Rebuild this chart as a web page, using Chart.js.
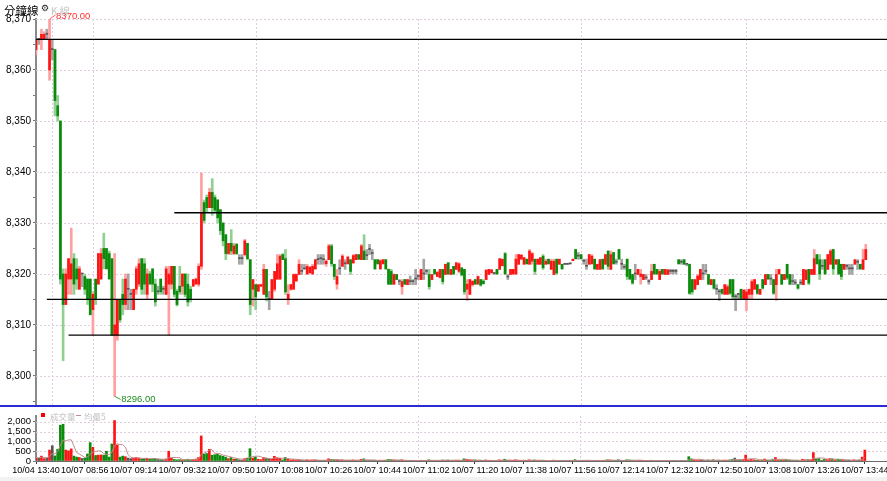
<!DOCTYPE html>
<html>
<head>
<meta charset="utf-8">
<script src="https://cdn.jsdelivr.net/npm/chart.js@4.4.0/dist/chart.umd.min.js"></script>
<style>
  html, body { margin: 0; padding: 0; background: #fff; overflow: hidden; }
  #wrap { position: relative; width: 887px; height: 481px; overflow: hidden; }
  canvas { position: absolute; left: 0; }
  #priceChart { top: 0; }
  #volChart { top: 407px; }
  .t { position: absolute; white-space: nowrap; line-height: 1; }
  #sep { position: absolute; left: 0; top: 405px; width: 887px; height: 2px; background: #2b2bd6; }
  #strip { position: absolute; left: 0; top: 477px; width: 887px; height: 4px; background: #f2f2f2; }
</style>
</head>
<body>
<div id="wrap">
  <canvas id="priceChart" width="920" height="406"></canvas>
  <canvas id="volChart" width="920" height="74"></canvas>
  <div id="sep"></div>
  <div id="strip"></div>
  <div class="t" style="left:4px;top:2px;font:11.5px 'Noto Sans CJK TC',sans-serif;color:#000">分鐘線</div>
  <div class="t" style="left:41px;top:3px;font:9px 'DejaVu Sans',sans-serif;color:#222">⚙</div>
  <div class="t" style="left:51px;top:3px;font:10px 'Noto Sans CJK TC',sans-serif;color:#c4c4c4">K 線</div>
  <div class="t" style="left:41px;top:413px;width:4px;height:4px;background:#f00"></div>
  <div class="t" style="left:50px;top:410px;font:8.5px 'Noto Sans CJK TC',sans-serif;color:#c4c4c4">成交量</div>
  <div class="t" style="left:76px;top:415px;width:5px;height:1px;background:#c28c8c"></div>
  <div class="t" style="left:84px;top:410px;font:8.5px 'Noto Sans CJK TC',sans-serif;color:#c4c4c4">均量5</div>
</div>
<script>
const FONT = "'Liberation Sans Narrow', 'Liberation Sans', Arial, sans-serif";
const GRID = '#e0cde0';

// one bar per minute: tail of 10/04, then the 10/07 session
const labels = [];
function hhmm(m) {
  return String(Math.floor(m / 60)).padStart(2, '0') + ':' + String(m % 60).padStart(2, '0');
}
for (let m = 13 * 60 + 40; m <= 13 * 60 + 45; m++) labels.push('10/04 ' + hhmm(m));
for (let m = 8 * 60 + 44; m <= 13 * 60 + 44; m++) labels.push('10/07 ' + hhmm(m));
const lastBar = labels.length - 1;
while (labels.length < 327) labels.push('');

// vertical dotted lines (date change + hours)
const hourTicks = [6, 21, 81, 141, 201, 262];
const priceTicks = [8295, 8300, 8305, 8310, 8315, 8320, 8325, 8330, 8335, 8340, 8345, 8350, 8355, 8360, 8365, 8370];
const priceRows = [8300, 8310, 8320, 8330, 8340, 8350, 8360, 8370];
const volTicks = [0, 500, 1000, 1500, 2000];
const volRows = [500, 1000, 1500, 2000];

const opens = [
  8364, 8366, 8366, 8366, 8367, 8360, 8364, 8364, 8353, 8350,
  8320, 8314, 8319, 8319, 8323, 8321, 8317, 8320, 8319.5, 8319,
  8319, 8313, 8319, 8318, 8319, 8325, 8325, 8324, 8323, 8308,
  8308, 8315, 8316, 8314, 8317, 8316, 8313, 8317, 8318, 8323,
  8322, 8316, 8320, 8321, 8318, 8316.5, 8319, 8317, 8316, 8318,
  8318, 8321.5, 8316.6, 8317.6, 8317.6, 8320, 8318, 8317, 8317.6, 8318,
  8318, 8321.5, 8334, 8335, 8333, 8336, 8335, 8334.5, 8332.6, 8330,
  8327.7, 8324, 8326, 8324, 8325.8, 8323, 8323, 8323.8, 8326, 8322.8,
  8317, 8317.9, 8316.6, 8317.6, 8316, 8320.9, 8315, 8315, 8317, 8319,
  8319, 8323.8, 8323, 8315, 8317, 8317, 8318.6, 8319.9, 8320.5, 8321,
  8320, 8320.2, 8320, 8321, 8322.8, 8323, 8322.8, 8322, 8322.8, 8325.5,
  8321.9, 8318, 8321, 8321.5, 8322, 8322, 8322.8, 8322.2, 8322.8, 8323.8,
  8322.8, 8324.5, 8323.6, 8324.8, 8324, 8322.8, 8322.8, 8321, 8322, 8322.8,
  8320.9, 8320.5, 8318, 8319.9, 8318.5, 8317.5, 8318.9, 8317.9, 8318.5, 8318.5,
  8319, 8319.5, 8318.9, 8320, 8320.5, 8319.9, 8318.9, 8320.9, 8319.5, 8319.3,
  8320.9, 8319.9, 8322.2, 8319.9, 8321.5, 8320.9, 8320.5, 8321.2, 8320.9, 8317,
  8316, 8317.9, 8318.9, 8318, 8318.9, 8318.6, 8318.9, 8319.9, 8320.2, 8320.1,
  8320.9, 8320.9, 8321.6, 8324, 8319.4, 8319.9, 8320, 8320, 8321.9, 8322.9,
  8321.9, 8322.9, 8321.9, 8322.5, 8322.9, 8321.9, 8321.9, 8323.5, 8321.9, 8322.9,
  8320.9, 8319.9, 8322.9, 8321.9, 8321.9, 8321.9, 8321.9, 8322, 8322.6, 8324.8,
  8323.5, 8323.8, 8322.5, 8321.5, 8321.9, 8322, 8322.9, 8320.9, 8320.9, 8322.9,
  8321.9, 8324.5, 8320.9, 8324.2, 8322.3, 8324.8, 8321.9, 8321.3, 8322.9, 8320.9,
  8319.9, 8320, 8319.9, 8319.5, 8318.9, 8319.2, 8318.5, 8318.9, 8321.9, 8320.9,
  8318.9, 8320.9, 8319.9, 8319.9, 8320.5, 8320.5, 8320.5, 8322.8, 8322.3, 8322.8,
  8321.9, 8321.9, 8318.9, 8317, 8317.9, 8318.9, 8320, 8320.5, 8319.9, 8317.9,
  8318.9, 8317, 8316.5, 8317, 8316, 8316, 8318.9, 8318.9, 8315.5, 8316,
  8317, 8315, 8315, 8316, 8316, 8317, 8317.9, 8316, 8318.9, 8317.9,
  8319.9, 8319, 8318.9, 8317.9, 8320, 8319.9, 8318.9, 8321.9, 8319.9, 8318.5,
  8318.2, 8317.9, 8318.2, 8317.9, 8318.9, 8320.9, 8319.9, 8319.9, 8323.8, 8322.8,
  8321.5, 8322.8, 8320.9, 8321.9, 8324.8, 8321.9, 8322.8, 8321.9, 8320.9, 8321.5,
  8321, 8321, 8321.9, 8322.3, 8321.9, 8320.9, 8322.8
];
const highs = [
  8366, 8366, 8368, 8367.5, 8368, 8370, 8366, 8364, 8355, 8350,
  8321, 8321, 8323, 8329, 8324, 8323, 8321.5, 8320, 8320, 8319,
  8319, 8316.5, 8319, 8324, 8325, 8328, 8325, 8324.5, 8323, 8324,
  8315, 8315, 8319, 8320, 8320, 8317, 8317, 8321.5, 8323, 8323,
  8323, 8321, 8320.5, 8321, 8319, 8317.6, 8319, 8317.6, 8321.5, 8321.5,
  8321.5, 8321.5, 8317, 8321.5, 8320, 8320, 8320, 8317.6, 8318.9, 8319.2,
  8322, 8339.8, 8334.5, 8335.5, 8336.8, 8338.7, 8335.5, 8334.6, 8332.6, 8330,
  8327.7, 8326, 8328.7, 8326, 8326, 8323.8, 8323.8, 8326.8, 8326, 8322.8,
  8318.9, 8318, 8317.9, 8318, 8321.9, 8320.9, 8316.6, 8318.9, 8320.5, 8323.8,
  8323.8, 8324, 8324.8, 8317.9, 8318, 8320, 8320, 8322.8, 8321.9, 8321.9,
  8321.9, 8321.5, 8321.9, 8322.8, 8323.8, 8323.8, 8323.8, 8322.8, 8325.8, 8325.8,
  8321.9, 8320.9, 8322.8, 8323.8, 8322.8, 8323.5, 8322.8, 8323.8, 8323.8, 8323.8,
  8325.8, 8327.7, 8324.8, 8325.8, 8324.8, 8322.8, 8322.8, 8322.8, 8322.8, 8322.8,
  8321, 8320.9, 8320, 8319.9, 8318.9, 8318.9, 8318.9, 8318.9, 8319.6, 8318.9,
  8320.9, 8319.9, 8320.9, 8322.9, 8320.9, 8320.9, 8319.9, 8320.9, 8320.5, 8320.9,
  8320.9, 8321.9, 8322.2, 8320.9, 8321.5, 8322.2, 8322.2, 8321.2, 8320.9, 8318.9,
  8318.9, 8318.6, 8318.9, 8319.6, 8318.9, 8318.9, 8320.9, 8320.9, 8320.9, 8320.2,
  8320.9, 8323, 8322.9, 8324.2, 8319.9, 8320.9, 8320.9, 8323.8, 8323.8, 8323.8,
  8323.2, 8322.9, 8324.8, 8324.2, 8322.9, 8322.9, 8323.2, 8323.8, 8322.9, 8322.9,
  8322.9, 8322.9, 8322.9, 8322.9, 8321.9, 8321.9, 8322, 8322.1, 8322.9, 8324.8,
  8324.2, 8323.8, 8322.9, 8322.9, 8323.8, 8323.8, 8322.9, 8321.9, 8322.9, 8322.9,
  8323.8, 8324.5, 8324.5, 8324.2, 8322.9, 8324.8, 8322.9, 8321.9, 8322.9, 8320.9,
  8319.9, 8321.9, 8320.9, 8320.9, 8319.9, 8319.9, 8318.9, 8321.9, 8321.9, 8320.9,
  8320.9, 8320.9, 8320.9, 8320.9, 8320.9, 8320.9, 8320.9, 8322.8, 8322.8, 8322.8,
  8322, 8321.9, 8318.9, 8318.9, 8319.9, 8320.9, 8321.9, 8321.9, 8319.9, 8318.9,
  8318.9, 8317.9, 8317, 8317, 8317.9, 8317.9, 8318.9, 8318.9, 8316, 8316,
  8317, 8317, 8317, 8317, 8318.9, 8318.9, 8317.9, 8317, 8318.9, 8319.9,
  8319.9, 8319.9, 8318.9, 8320.9, 8320.9, 8319.9, 8319.9, 8321.9, 8319.9, 8319.9,
  8318.9, 8317.9, 8318.9, 8320.9, 8320.9, 8320.9, 8320.9, 8324.8, 8323.8, 8323.8,
  8322.8, 8322.8, 8323.8, 8324.8, 8324.8, 8322.8, 8322.8, 8321.9, 8321.9, 8321.9,
  8321.9, 8321.9, 8322.8, 8322.8, 8321.9, 8324.8, 8325.8
];
const lows = [
  8363, 8365, 8364, 8366, 8366, 8358, 8362, 8351, 8350, 8318,
  8303, 8314, 8316, 8316, 8316, 8317, 8317, 8317.5, 8316, 8314,
  8312, 8308, 8314, 8318, 8319, 8321, 8321, 8319, 8308, 8296,
  8307, 8310.5, 8312, 8313, 8313, 8313, 8313, 8316, 8317.5, 8316,
  8316, 8315, 8318, 8316.5, 8313.7, 8316, 8316, 8316, 8316, 8308,
  8317, 8315.5, 8313.7, 8316, 8316, 8315.5, 8313.7, 8314.5, 8317.6, 8318,
  8317.6, 8320.9, 8330, 8332, 8333, 8331.5, 8332, 8330, 8327.7, 8325.5,
  8322.8, 8323.8, 8323.8, 8323.8, 8323.8, 8321.9, 8321.9, 8323.5, 8322.8, 8312,
  8313.7, 8313, 8316.6, 8317.5, 8316, 8314.7, 8313, 8315, 8316.6, 8318.9,
  8318.9, 8322.8, 8316, 8314, 8316.8, 8317, 8318.6, 8319.9, 8319.9, 8320.9,
  8319.9, 8320.2, 8319.9, 8320.9, 8321.9, 8321.9, 8321.9, 8321.5, 8322.8, 8321.5,
  8318.9, 8317, 8319.9, 8321.5, 8320.9, 8321.9, 8319.9, 8322, 8322.8, 8322.8,
  8322.8, 8322.8, 8322.8, 8323.8, 8322.8, 8320.9, 8321.9, 8320.9, 8321.9, 8320.9,
  8317.9, 8317.9, 8317.9, 8318.9, 8317.9, 8316, 8317.9, 8317.9, 8317.9, 8317.9,
  8317.9, 8318.9, 8318.9, 8318.9, 8319.9, 8317, 8318.9, 8319.9, 8319.5, 8319.2,
  8318, 8319.9, 8319.9, 8319.9, 8319.9, 8320.9, 8320.2, 8319.6, 8316, 8314.8,
  8316, 8317.6, 8318, 8318, 8317.6, 8318, 8318.9, 8319.9, 8320.2, 8319.9,
  8319.9, 8320.9, 8321.6, 8319.9, 8318.9, 8319.9, 8319.9, 8319.9, 8321.9, 8322.9,
  8321.9, 8321.9, 8321.9, 8321.9, 8319.9, 8321.9, 8321.9, 8320.9, 8321.9, 8321.9,
  8320.9, 8319.9, 8319.9, 8321.9, 8320.9, 8321.8, 8321.8, 8321.9, 8322.6, 8322.9,
  8322.9, 8322.9, 8321.9, 8320.9, 8321.9, 8321.9, 8320.9, 8320.9, 8320.9, 8320.9,
  8321.9, 8320.9, 8320.9, 8321.9, 8321.9, 8322.9, 8320.9, 8320.9, 8318.9, 8318.9,
  8318, 8318.9, 8319.9, 8318, 8318.9, 8318.9, 8318, 8318.9, 8319.9, 8319.9,
  8318.9, 8319.9, 8319.9, 8319.9, 8320, 8320, 8320, 8321.9, 8321.9, 8321.9,
  8321.6, 8316, 8316, 8317, 8317.9, 8318.9, 8318.9, 8319.9, 8317.9, 8317.9,
  8317, 8316, 8314.8, 8316, 8316, 8316, 8316, 8315, 8312.8, 8315,
  8315, 8315, 8312.8, 8315, 8315, 8317, 8316, 8316, 8317, 8317.9,
  8318.9, 8317.9, 8316, 8314.8, 8319.9, 8317.9, 8318.9, 8318.9, 8317.9, 8317.9,
  8317.9, 8317, 8317.9, 8317.9, 8318.9, 8317.9, 8319.9, 8319.9, 8321.9, 8318.9,
  8320.9, 8319.9, 8320.9, 8321.9, 8319.9, 8321.9, 8319.9, 8318.9, 8320.9, 8320.9,
  8319.9, 8319.9, 8321.9, 8320.9, 8320.9, 8320.9, 8322.8
];
const closes = [
  8366, 8366, 8367, 8367, 8367, 8366, 8364, 8354, 8351, 8319,
  8314, 8320, 8323, 8322, 8318, 8319, 8321, 8320, 8317, 8315,
  8312, 8316, 8315, 8324, 8324, 8323, 8321, 8319, 8308, 8310,
  8315, 8311, 8314, 8319, 8317, 8316, 8317, 8321, 8322, 8317,
  8318, 8320, 8318, 8318, 8314.5, 8316.5, 8316.5, 8317, 8321, 8320,
  8321.5, 8316, 8314, 8316.5, 8320, 8316, 8314.5, 8315, 8318.9, 8319,
  8321.5, 8332, 8330.5, 8333, 8336, 8333, 8332.5, 8331, 8328.5, 8326.5,
  8324, 8326, 8324.5, 8325.5, 8324, 8323, 8323, 8326.5, 8323, 8314,
  8318.9, 8315.5, 8317.9, 8317.9, 8320.9, 8315.5, 8315, 8318.9, 8320.5, 8322,
  8323.5, 8322.8, 8316.5, 8316, 8317.9, 8319.9, 8319.9, 8321.9, 8320.5, 8321,
  8321.5, 8321.3, 8321.5, 8322.8, 8322.8, 8323, 8322.8, 8322.5, 8325.5, 8322,
  8319.5, 8319.5, 8321, 8323.5, 8322, 8323.3, 8320.5, 8323.6, 8323.8, 8322.9,
  8325.5, 8322.8, 8323.6, 8324.8, 8324, 8321, 8322, 8322.6, 8322.8, 8321,
  8318, 8318, 8319.9, 8318.9, 8318.5, 8318.5, 8318, 8318.9, 8318.5, 8318.5,
  8319, 8319.5, 8320.9, 8320, 8320.5, 8317.5, 8319.9, 8320, 8320.3, 8320.9,
  8318.5, 8321.9, 8320, 8320.9, 8320, 8322.2, 8322, 8319.8, 8316.5, 8318,
  8318.9, 8318.6, 8318, 8319.5, 8317.8, 8318.1, 8320.7, 8320.9, 8320.8, 8320.1,
  8320, 8323, 8322.9, 8320, 8319.4, 8320.9, 8320.9, 8322.9, 8323.8, 8323.7,
  8323.2, 8322, 8324.5, 8324, 8320.5, 8322.9, 8323.2, 8321.2, 8322.5, 8322,
  8322.5, 8322.5, 8320.2, 8322.9, 8321, 8321.9, 8321.9, 8322, 8322.9, 8323,
  8323.5, 8323, 8322.5, 8321.5, 8323.8, 8323.5, 8321, 8321.9, 8322.8, 8321,
  8323.8, 8321.5, 8323.8, 8322, 8322.3, 8322.9, 8321.9, 8321.3, 8319.5, 8319,
  8318.2, 8320, 8320.9, 8320, 8319.9, 8319.2, 8318.5, 8320.5, 8320, 8320,
  8320.5, 8320, 8320.9, 8320.8, 8320.5, 8320.5, 8320.5, 8322, 8322.3, 8321.9,
  8321.9, 8316.2, 8316.5, 8318.9, 8319.6, 8320.9, 8320, 8320.5, 8318, 8318.9,
  8317.2, 8317, 8316.5, 8316.2, 8317.9, 8317.5, 8316.2, 8315.5, 8315.5, 8316,
  8315.2, 8316.8, 8316.5, 8317, 8318.5, 8318.9, 8316.2, 8317, 8317.2, 8319.9,
  8319, 8319, 8316.2, 8319.9, 8320.9, 8318, 8319.9, 8319.2, 8318, 8318.5,
  8318.2, 8317.2, 8318.2, 8320.9, 8320.7, 8318.2, 8320.9, 8323, 8322, 8320,
  8321.5, 8320, 8323.8, 8324.5, 8321, 8322.8, 8320, 8319.5, 8321.9, 8321.5,
  8321, 8321, 8322.8, 8322.3, 8321, 8322.8, 8324.8
];
const volumes = [
  180, 140, 250, 120, 150, 560, 780, 260, 600, 1830,
  1880, 560, 520, 620, 250, 200, 180, 130, 150, 360,
  940, 700, 280, 300, 310, 300, 500, 200, 870, 2070,
  820, 200, 250, 220, 150, 120, 130, 180, 150, 100,
  120, 140, 90, 110, 130, 80, 70, 60, 100, 500,
  150, 80, 60, 70, 50, 60, 90, 60, 80, 100,
  180, 1280, 350, 380, 600, 300, 320, 350, 280, 240,
  200, 120, 180, 90, 100, 60, 50, 120, 150, 630,
  150, 200, 90, 70, 180, 150, 110, 90, 240, 160,
  140, 60, 180, 90, 60, 70, 50, 80, 40, 30,
  60, 40, 50, 60, 30, 20, 30, 40, 110, 80,
  70, 60, 30, 50, 30, 40, 40, 50, 40, 30,
  90, 110, 30, 30, 20, 40, 30, 40, 30, 40,
  80, 70, 50, 30, 20, 60, 30, 30, 20, 20,
  30, 20, 40, 30, 20, 60, 30, 30, 20, 30,
  50, 40, 50, 30, 30, 40, 40, 30, 110, 90,
  60, 30, 30, 30, 40, 20, 50, 30, 20, 10,
  30, 60, 40, 90, 20, 30, 30, 60, 40, 20,
  30, 20, 60, 40, 50, 20, 20, 40, 20, 20,
  30, 40, 30, 20, 20, 10, 10, 10, 20, 70,
  20, 30, 20, 20, 40, 30, 30, 20, 30, 30,
  40, 60, 50, 30, 10, 60, 20, 10, 60, 50,
  40, 30, 30, 40, 20, 10, 10, 40, 30, 20,
  30, 20, 20, 20, 10, 10, 10, 30, 10, 20,
  10, 220, 110, 60, 20, 50, 60, 30, 50, 30,
  60, 30, 40, 30, 40, 40, 50, 80, 150, 40,
  50, 80, 300, 60, 80, 60, 40, 40, 50, 100,
  40, 30, 90, 180, 60, 50, 60, 70, 50, 20,
  20, 40, 20, 90, 60, 70, 60, 430, 100, 120,
  40, 80, 90, 120, 110, 50, 90, 70, 60, 30,
  40, 30, 60, 40, 50, 200, 560
];

// support / resistance levels and the bar they start from
const levels = [8366, 8332, 8315, 8308];
const levelStart = [0, 51, 4, 12];

const dir = closes.map((c, i) => c > opens[i] ? 1 : (c < opens[i] ? -1 : 0));
const bodyColor = dir.map(d => d > 0 ? '#ff1414' : (d < 0 ? '#0b8a0b' : '#555555'));
const wickColor = dir.map(d => d > 0 ? '#ffa0a0' : (d < 0 ? '#92cf92' : '#a4a4a4'));

// 5-bar average volume
const ma5 = volumes.map((v, i) => {
  const part = volumes.slice(Math.max(0, i - 4), i + 1);
  return part.reduce((a, b) => a + b, 0) / part.length;
});

Chart.defaults.font.family = FONT;
Chart.defaults.color = '#000';

// dotted grid: hour columns + value rows
const dottedGrid = {
  id: 'dottedGrid',
  beforeDatasetsDraw(chart, args, opts) {
    const { ctx, chartArea: a, scales: { x, y } } = chart;
    ctx.save();
    ctx.strokeStyle = GRID;
    ctx.lineWidth = 1;
    ctx.setLineDash([2, 2]);
    ctx.beginPath();
    hourTicks.forEach(i => {
      const px = Math.round(x.getPixelForValue(i)) + 0.5;
      ctx.moveTo(px, a.top);
      ctx.lineTo(px, a.bottom);
    });
    opts.rows.forEach(v => {
      const py = Math.round(y.getPixelForValue(v)) + 0.5;
      ctx.moveTo(a.left, py);
      ctx.lineTo(a.right, py);
    });
    ctx.stroke();
    ctx.restore();
  }
};

const extremeLabels = {
  id: 'extremeLabels',
  afterDatasetsDraw(chart) {
    const { ctx, scales: { x, y } } = chart;
    const hiVal = Math.max(...highs);
    const loVal = Math.min(...lows);
    const hi = highs.indexOf(hiVal);
    const lo = lows.indexOf(loVal);
    ctx.save();
    ctx.font = '9.5px ' + FONT;
    ctx.textBaseline = 'middle';
    ctx.textAlign = 'left';
    ctx.lineWidth = 1;

    let px = x.getPixelForValue(hi), py = y.getPixelForValue(hiVal);
    ctx.strokeStyle = '#ff6060';
    ctx.beginPath(); ctx.moveTo(px, py); ctx.lineTo(px + 6, py - 4); ctx.stroke();
    ctx.fillStyle = '#ff3030';
    ctx.fillText(hiVal.toFixed(2), px + 6.5, py - 3);

    px = x.getPixelForValue(lo); py = y.getPixelForValue(loVal);
    ctx.strokeStyle = '#3a9a3a';
    ctx.beginPath(); ctx.moveTo(px, py); ctx.lineTo(px + 6, py + 3); ctx.stroke();
    ctx.fillStyle = '#1e8c1e';
    ctx.fillText(loVal.toFixed(2), px + 6.5, py + 3);
    ctx.restore();
  }
};

const levelSets = levels.map((v, k) => ({
  type: 'line',
  data: labels.map((_, i) => i >= levelStart[k] ? v : null),
  borderColor: '#000',
  borderWidth: 1.3,
  pointRadius: 0,
  spanGaps: false,
  order: 0
}));

new Chart(document.getElementById('priceChart'), {
  type: 'bar',
  data: {
    labels: labels,
    datasets: levelSets.concat([
      {
        data: opens.map((o, i) => [o, closes[i]]),
        backgroundColor: bodyColor,
        barThickness: 2,
        minBarLength: 1,
        grouped: false,
        order: 1
      },
      {
        data: lows.map((l, i) => [l, highs[i]]),
        backgroundColor: wickColor,
        barThickness: 2,
        grouped: false,
        order: 2
      }
    ])
  },
  options: {
    responsive: false,
    animation: false,
    devicePixelRatio: 1,
    layout: { padding: { top: 19, bottom: 1, left: 0, right: 0 } },
    plugins: {
      legend: { display: false },
      tooltip: { enabled: false },
      dottedGrid: { rows: priceRows }
    },
    scales: {
      x: {
        display: false,
        offset: false
      },
      y: {
        min: 8294.3,
        max: 8370,
        afterBuildTicks: s => { s.ticks = priceTicks.map(v => ({ value: v })); },
        afterFit: s => { s.width = 36; s.paddingTop = 0; s.paddingBottom = 0; },
        ticks: {
          autoSkip: false,
          padding: 2,
          font: { size: 10 },
          color: '#000',
          callback: v => v % 10 === 0 ? v.toLocaleString('en-US') : ''
        },
        grid: { drawOnChartArea: false, tickLength: 3, tickColor: '#777' },
        border: { color: '#8a8a8a', width: 2 }
      }
    }
  },
  plugins: [dottedGrid, extremeLabels]
});

new Chart(document.getElementById('volChart'), {
  type: 'bar',
  data: {
    labels: labels,
    datasets: [
      {
        type: 'line',
        data: ma5,
        borderColor: '#c28c8c',
        borderWidth: 1,
        pointRadius: 0,
        order: 0
      },
      {
        data: volumes,
        backgroundColor: bodyColor,
        barThickness: 2,
        order: 1
      }
    ]
  },
  options: {
    responsive: false,
    animation: false,
    devicePixelRatio: 1,
    layout: { padding: { top: 9, bottom: 0, left: 0, right: 0 } },
    plugins: {
      legend: { display: false },
      tooltip: { enabled: false },
      dottedGrid: { rows: volRows }
    },
    scales: {
      x: {
        offset: false,
        afterFit: s => { s.height = 20; },
        ticks: {
          autoSkip: false,
          maxRotation: 0,
          minRotation: 0,
          padding: 1,
          font: { size: 9 },
          color: '#000',
          callback: (v, i) => (i % 18 === 0 && i <= lastBar) ? labels[i] : ''
        },
        grid: {
          offset: false,
          drawOnChartArea: false,
          tickLength: 3,
          tickColor: ctx => (ctx.index % 18 === 0 && ctx.index <= lastBar) ? '#333' : 'rgba(0,0,0,0)'
        },
        border: { color: '#6a6a6a', width: 1 }
      },
      y: {
        min: 0,
        max: 2300,
        afterBuildTicks: s => { s.ticks = volTicks.map(v => ({ value: v })); },
        afterFit: s => { s.width = 36; s.paddingTop = 0; s.paddingBottom = 0; },
        ticks: {
          autoSkip: false,
          padding: 2,
          font: { size: 9.5 },
          color: '#000',
          callback: v => v.toLocaleString('en-US')
        },
        grid: { drawOnChartArea: false, tickLength: 3, tickColor: '#777' },
        border: { color: '#8a8a8a', width: 2 }
      }
    }
  },
  plugins: [dottedGrid]
});
</script>
</body>
</html>
